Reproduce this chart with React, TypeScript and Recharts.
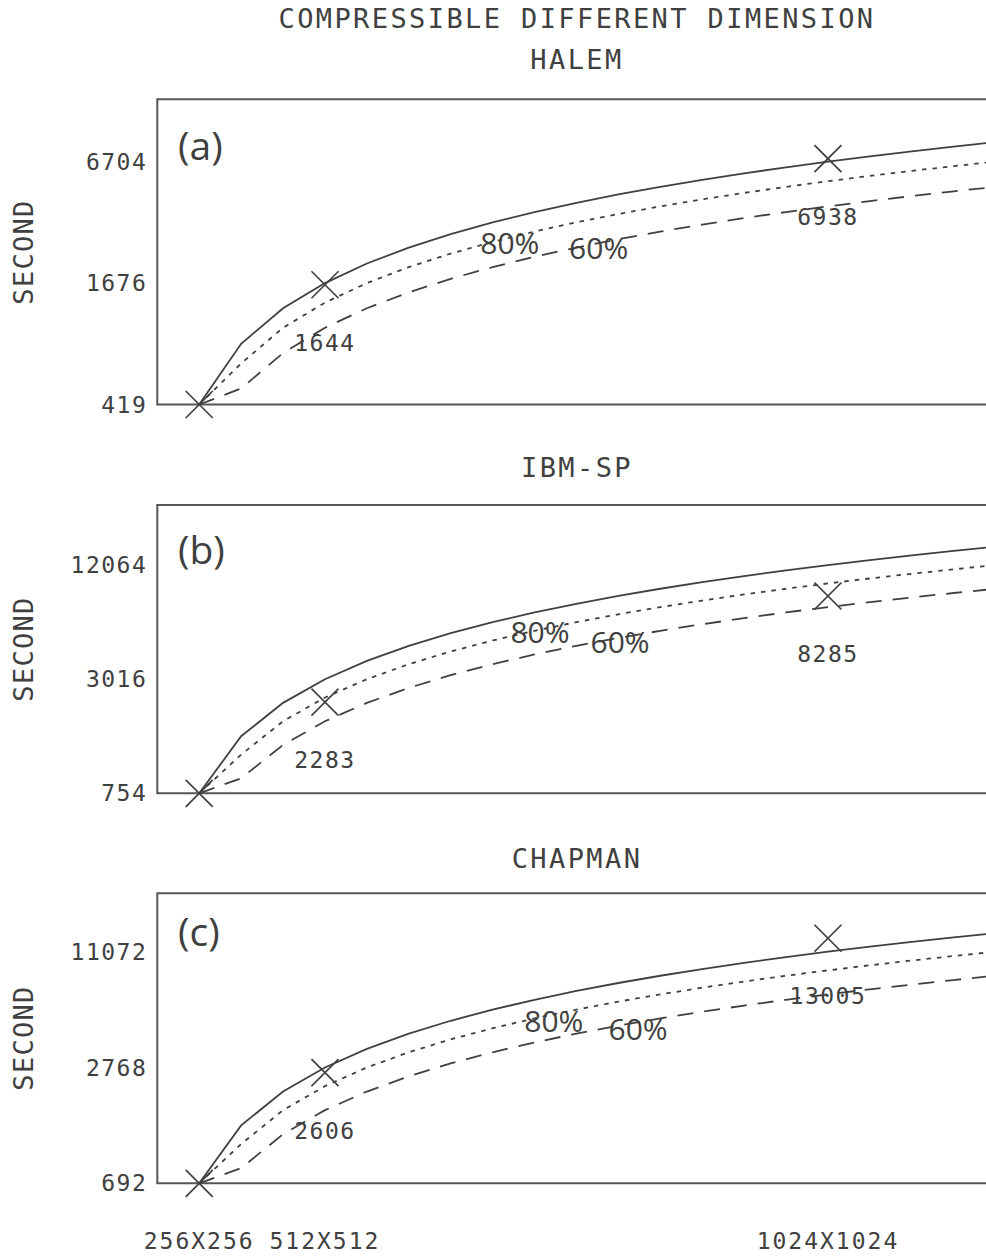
import { ComposedChart, Line, Scatter, XAxis, YAxis, ReferenceArea, ReferenceDot } from 'recharts';

const INK = '#404040';
const MONO = '"DejaVu Sans Mono", "Liberation Mono", monospace';
const SANS = '"Open Sans", "Noto Sans", sans-serif';

// grid size in units of 256x256 points (k=4 -> 512x512, k=16 -> 1024x1024)
const sizeK = [1, 2, 3, 4, 5, 6, 7, 8, 9, 10, 11, 12, 13, 14, 15, 16, 17, 18, 19, 20];
const xTickK = [1, 4, 16];
const xTickLabels = ['256X256', '512X512', '1024X1024'];
const obsK = [1, 4, 16];
const pctNames = ['80%', '60%'];

// (a) HALEM
const halemIdeal = [419, 838, 1257, 1676, 2095, 2514, 2933, 3352, 3771, 4190, 4609, 5028, 5447, 5866, 6285, 6704, 7123, 7542, 7961, 8380];
const halem80 = [419, 670, 1006, 1341, 1676, 2011, 2346, 2682, 3017, 3352, 3687, 4022, 4358, 4693, 5028, 5363, 5698, 6034, 6369, 6704];
const halem60 = [419, 503, 754, 1006, 1257, 1508, 1760, 2011, 2263, 2514, 2765, 3017, 3268, 3520, 3771, 4022, 4274, 4525, 4777, 5028];
const halemObs = [419, 1644, 6938];
const halemTicks = [419, 1676, 6704];
const halemPctK = [8.41, 10.53];
const halemPctV = [2650, 2500];

// (b) IBM-SP
const ibmIdeal = [754, 1508, 2262, 3016, 3770, 4524, 5278, 6032, 6786, 7540, 8294, 9048, 9802, 10556, 11310, 12064, 12818, 13572, 14326, 15080];
const ibm80 = [754, 1206, 1810, 2413, 3016, 3619, 4222, 4826, 5429, 6032, 6635, 7238, 7842, 8445, 9048, 9651, 10254, 10858, 11461, 12064];
const ibm60 = [754, 905, 1357, 1810, 2262, 2714, 3167, 3619, 4072, 4524, 4976, 5429, 5881, 6334, 6786, 7238, 7690, 8143, 8595, 9048];
const ibmObs = [754, 2283, 8285];
const ibmTicks = [754, 3016, 12064];
const ibmPctK = [9.13, 11.04];
const ibmPctV = [5350, 4735];

// (c) CHAPMAN
const chapIdeal = [692, 1384, 2076, 2768, 3460, 4152, 4844, 5536, 6228, 6920, 7612, 8304, 8996, 9688, 10380, 11072, 11764, 12456, 13148, 13840];
const chap80 = [692, 1107, 1661, 2214, 2768, 3322, 3875, 4429, 4982, 5536, 6090, 6643, 7197, 7750, 8304, 8858, 9411, 9965, 10518, 11072];
const chap60 = [692, 830, 1246, 1661, 2076, 2491, 2906, 3322, 3737, 4152, 4567, 4982, 5398, 5813, 6228, 6643, 7058, 7474, 7889, 8304];
const chapObs = [692, 2606, 13005];
const chapTicks = [692, 2768, 11072];
const chapPctK = [9.46, 11.47];
const chapPctV = [4830, 4390];

type PanelProps = {
  top: number;
  height: number;
  mTop: number;
  mBottom: number;
  domain: [number, number];
  ticks: number[];
  ideal: number[];
  e80: number[];
  e60: number[];
  obs: number[];
  pctK: number[];
  pctV: number[];
  showX?: boolean;
};

function XMark(props: any) {
  const { cx, cy, payload } = props;
  if (cx == null || cy == null) return null;
  const s = 13.5;
  return (
    <g>
      <line x1={cx - s} y1={cy - s} x2={cx + s} y2={cy + s} stroke={INK} strokeWidth={1.7} />
      <line x1={cx - s} y1={cy + s} x2={cx + s} y2={cy - s} stroke={INK} strokeWidth={1.7} />
      {payload && payload.label ? (
        <text x={cx} y={cy + 66} textAnchor="middle" fontFamily={MONO} fontSize={23} letterSpacing={1.5} fill={INK}>
          {payload.label}
        </text>
      ) : null}
    </g>
  );
}

function YTick(props: any) {
  const { x, y, payload } = props;
  return (
    <text x={x} y={y} textAnchor="end" dominantBaseline="central" fontFamily={MONO} fontSize={23} letterSpacing={1.5} fill={INK}>
      {payload.value}
    </text>
  );
}

function XTick(props: any) {
  const { x, y, payload } = props;
  const i = xTickK.indexOf(payload.value);
  return (
    <text x={x} y={y + 58} textAnchor="middle" dominantBaseline="central" fontFamily={MONO} fontSize={23} letterSpacing={2} fill={INK}>
      {xTickLabels[i]}
    </text>
  );
}

// plot frame runs from x=157.3 to 995.6, i.e. past the right edge of the page
const CHART_W = 986;

function Panel({ top, height, mTop, mBottom, domain, ticks, ideal, e80, e60, obs, pctK, pctV, showX }: PanelProps) {
  const data = sizeK.map((k, i) => ({ k, ideal: ideal[i], e80: e80[i], e60: e60[i] }));
  const obsData = obsK.map((k, i) => ({ k, v: obs[i], label: i > 0 ? String(obs[i]) : '' }));

  return (
    <div style={{ position: 'absolute', left: 0, top, width: CHART_W, height }}>
      <ComposedChart width={CHART_W} height={height} data={data} margin={{ top: mTop, right: -9.6, bottom: mBottom, left: 57.3 }}>
        <XAxis
          type="number"
          dataKey="k"
          domain={[0, 20]}
          ticks={xTickK}
          interval={0}
          hide={!showX}
          height={60}
          axisLine={false}
          tickLine={false}
          tickSize={0}
          tickMargin={0}
          tick={XTick}
        />
        <YAxis
          type="number"
          scale="log"
          domain={domain}
          ticks={ticks}
          interval={0}
          width={100}
          axisLine={false}
          tickLine={false}
          tickSize={0}
          tickMargin={10}
          tick={YTick}
        />
        <ReferenceArea x1={0} x2={20} y1={domain[0]} y2={domain[1]} fill="none" stroke="#555" strokeWidth={2} ifOverflow="visible" />
        <Line type="linear" dataKey="ideal" stroke={INK} strokeWidth={1.8} dot={false} isAnimationActive={false} />
        <Line type="linear" dataKey="e80" stroke={INK} strokeWidth={1.8} strokeDasharray="4.5 6" dot={false} isAnimationActive={false} />
        <Line type="linear" dataKey="e60" stroke={INK} strokeWidth={1.8} strokeDasharray="16 11" dot={false} isAnimationActive={false} />
        <Scatter data={obsData} dataKey="v" shape={XMark} isAnimationActive={false} />
        {pctNames.map((name, i) => (
          <ReferenceDot
            key={name}
            x={pctK[i]}
            y={pctV[i]}
            r={0}
            ifOverflow="visible"
            shape={(p: any) => (
              <text x={p.cx} y={p.cy + 10.7} textAnchor="middle" fontFamily={SANS} fontSize={30} fill={INK}>
                {name}
              </text>
            )}
          />
        ))}
      </ComposedChart>
    </div>
  );
}

export default function App() {
  const title = { fontFamily: MONO, fontSize: 27, letterSpacing: 2.4, fill: INK, textAnchor: 'middle' as const };
  const tag = { fontFamily: SANS, fontSize: 39, fill: INK };
  const second = { fontFamily: MONO, fontSize: 27, letterSpacing: 1.3, fill: INK, textAnchor: 'middle' as const, dominantBaseline: 'central' as const };

  return (
    <div style={{ width: '100%', height: 1240 }}>
      <div style={{ position: 'fixed', left: 0, top: 0, width: 986, height: 1256, overflow: 'hidden', background: '#fff' }}>
        <Panel top={0} height={440} mTop={99.3} mBottom={35.5} domain={[419, 13660]} ticks={halemTicks}
          ideal={halemIdeal} e80={halem80} e60={halem60} obs={halemObs} pctK={halemPctK} pctV={halemPctV} />
        <Panel top={440} height={400} mTop={65} mBottom={46.7} domain={[754, 25030]} ticks={ibmTicks}
          ideal={ibmIdeal} e80={ibm80} e60={ibm60} obs={ibmObs} pctK={ibmPctK} pctV={ibmPctV} />
        <Panel top={840} height={416} mTop={53.3} mBottom={12.7} domain={[692, 22280]} ticks={chapTicks}
          ideal={chapIdeal} e80={chap80} e60={chap60} obs={chapObs} pctK={chapPctK} pctV={chapPctV} showX />

        <svg width={986} height={1256} style={{ position: 'absolute', left: 0, top: 0, pointerEvents: 'none' }}>
          <text x={577} y={28} {...title}>COMPRESSIBLE DIFFERENT DIMENSION</text>
          <text x={577} y={69} {...title}>HALEM</text>
          <text x={577} y={477} {...title}>IBM-SP</text>
          <text x={577} y={868} {...title}>CHAPMAN</text>

          <text x={178} y={160} {...tag}>(a)</text>
          <text x={178} y={564} {...tag}>(b)</text>
          <text x={178} y={946} {...tag}>(c)</text>

          <text x={23} y={252} transform="rotate(-90 23 252)" {...second}>SECOND</text>
          <text x={23} y={649} transform="rotate(-90 23 649)" {...second}>SECOND</text>
          <text x={23} y={1038} transform="rotate(-90 23 1038)" {...second}>SECOND</text>
        </svg>
      </div>
    </div>
  );
}
